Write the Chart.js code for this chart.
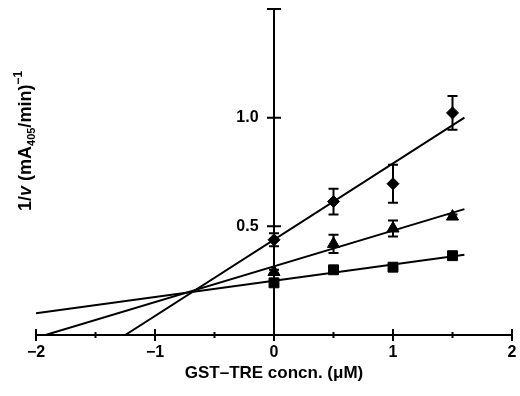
<!DOCTYPE html>
<html>
<head>
<meta charset="utf-8">
<script src="https://cdn.jsdelivr.net/npm/chart.js@4.4.0/dist/chart.umd.min.js"></script>
<style>
  html, body { margin: 0; padding: 0; background: #fff; }
  #wrap { width: 520px; height: 396px; }
</style>
</head>
<body>
<div id="wrap"><canvas id="chart"></canvas></div>
<script>
// GST-TRE concentrations (uM)
const concn = [0, 0.5, 1, 1.5];

// 1/v values
const diamondY = [0.438, 0.614, 0.696, 1.022];
const diamondErr = [0.03, 0.059, 0.087, 0.078];
const triangleY = [0.29, 0.419, 0.49, 0.545];
const triangleErr = [0.01, 0.042, 0.037, 0.01];
const squareY = [0.24, 0.30, 0.312, 0.365];
const squareErr = [0.01, 0.01, 0.01, 0.01];

// fitted lines, end points
const diamondFitX = [-1.25, 1.6];
const diamondFitY = [0, 1.0];
const triangleFitX = [-1.92, 1.6];
const triangleFitY = [0, 0.579];
const squareFitX = [-2, 1.6];
const squareFitY = [0.10, 0.369];

const xTicks = [-2, -1, 0, 1, 2];
const xMinorTicks = [-1.5, -0.5, 0.5, 1.5];
const yTicks = [0.5, 1.0];

const pts = (xs, ys) => xs.map((x, i) => ({x: x, y: ys[i]}));

const FONT = '"Liberation Sans", Arial, sans-serif';

// error bars + hand-made axes with crossing ticks
const axesPlugin = {
    id: 'axesPlugin',
    afterDatasetsDraw(chart) {
        const {ctx, scales: {x, y}} = chart;
        const x0 = x.getPixelForValue(0);
        const y0 = y.getPixelForValue(0);
        ctx.save();
        ctx.strokeStyle = '#000';
        ctx.lineWidth = 2;
        ctx.lineCap = 'butt';

        // x axis
        ctx.beginPath();
        ctx.moveTo(x.getPixelForValue(-2), y0);
        ctx.lineTo(x.getPixelForValue(2), y0);
        xTicks.forEach(v => {
            const px = x.getPixelForValue(v);
            ctx.moveTo(px, y0 - 6);
            ctx.lineTo(px, y0 + 6);
        });
        xMinorTicks.forEach(v => {
            const px = x.getPixelForValue(v);
            ctx.moveTo(px, y0 - 3);
            ctx.lineTo(px, y0 + 3);
        });
        // y axis
        ctx.moveTo(x0, y0);
        ctx.lineTo(x0, y.getPixelForValue(1.5));
        yTicks.concat([1.5]).forEach(v => {
            const py = y.getPixelForValue(v);
            ctx.moveTo(x0 - 7, py);
            ctx.lineTo(x0 + 7, py);
        });
        ctx.stroke();

        // error bars
        const bars = [[diamondY, diamondErr], [triangleY, triangleErr], [squareY, squareErr]];
        ctx.beginPath();
        bars.forEach(([ys, errs]) => {
            concn.forEach((cx, i) => {
                const px = x.getPixelForValue(cx);
                const top = y.getPixelForValue(ys[i] + errs[i]);
                const bot = y.getPixelForValue(ys[i] - errs[i]);
                ctx.moveTo(px, top);
                ctx.lineTo(px, bot);
                ctx.moveTo(px - 5, top);
                ctx.lineTo(px + 5, top);
                ctx.moveTo(px - 5, bot);
                ctx.lineTo(px + 5, bot);
            });
        });
        ctx.stroke();

        // y axis title with italic v, subscript and superscript
        ctx.translate(31, 211);
        ctx.rotate(-Math.PI / 2);
        ctx.fillStyle = '#000';
        ctx.textBaseline = 'alphabetic';
        let cx = 0;
        const part = (txt, font, dy) => {
            ctx.font = font;
            ctx.fillText(txt, cx, dy);
            cx += ctx.measureText(txt).width;
        };
        part('1/', 'bold 18px ' + FONT, 0);
        part('v', 'italic bold 18px ' + FONT, 0);
        part(' (mA', 'bold 18px ' + FONT, 0);
        part('405', 'bold 11px ' + FONT, 4);
        part('/min)', 'bold 18px ' + FONT, 0);
        part('\u22121', 'bold 12px ' + FONT, -9);
        ctx.restore();
    }
};

const lineSet = (data) => ({
    type: 'line',
    data: data,
    borderColor: '#000',
    borderWidth: 2,
    pointRadius: 0,
    fill: false,
    tension: 0
});

const markerSet = (data, style, r) => ({
    type: 'scatter',
    data: data,
    pointStyle: style,
    pointRadius: r,
    backgroundColor: '#000',
    borderColor: '#000',
    borderWidth: 1
});

new Chart(document.getElementById('chart'), {
    data: {
        datasets: [
            lineSet(pts(diamondFitX, diamondFitY)),
            lineSet(pts(triangleFitX, triangleFitY)),
            lineSet(pts(squareFitX, squareFitY)),
            markerSet(pts(concn, diamondY), 'rectRot', 6),
            markerSet(pts(concn, triangleY), 'triangle', 7),
            markerSet(pts(concn, squareY), 'rect', 7)
        ]
    },
    options: {
        responsive: true,
        maintainAspectRatio: false,
        animation: false,
        layout: {padding: {left: 36, top: 9, right: 5, bottom: 12}},
        plugins: {legend: {display: false}, tooltip: {enabled: false}},
        scales: {
            x: {
                type: 'linear',
                min: -2,
                max: 2,
                grid: {display: false},
                border: {display: false},
                ticks: {
                    stepSize: 1,
                    color: '#000',
                    padding: 0,
                    font: {family: FONT, size: 16, weight: 'bold'},
                    callback: v => (v < 0 ? '\u2212' + Math.abs(v) : String(v))
                },
                title: {
                    display: true,
                    text: 'GST\u2013TRE concn. (\u03bcM)',
                    color: '#000',
                    font: {family: FONT, size: 17, weight: 'bold'},
                    padding: {top: 3, bottom: 0}
                },
                afterFit: s => { s.height = 49; s.paddingLeft = 0; s.paddingRight = 0; }
            },
            y: {
                type: 'linear',
                position: {x: -0.13},
                min: 0,
                max: 1.5,
                grid: {display: false},
                border: {display: false},
                ticks: {
                    stepSize: 0.5,
                    color: '#000',
                    padding: 0,
                    font: {family: FONT, size: 16, weight: 'bold'},
                    callback: v => (yTicks.includes(v) ? v.toFixed(1) : '')
                },
                afterFit: s => { s.paddingTop = 0; s.paddingBottom = 0; }
            }
        }
    },
    plugins: [axesPlugin]
});
</script>
</body>
</html>
